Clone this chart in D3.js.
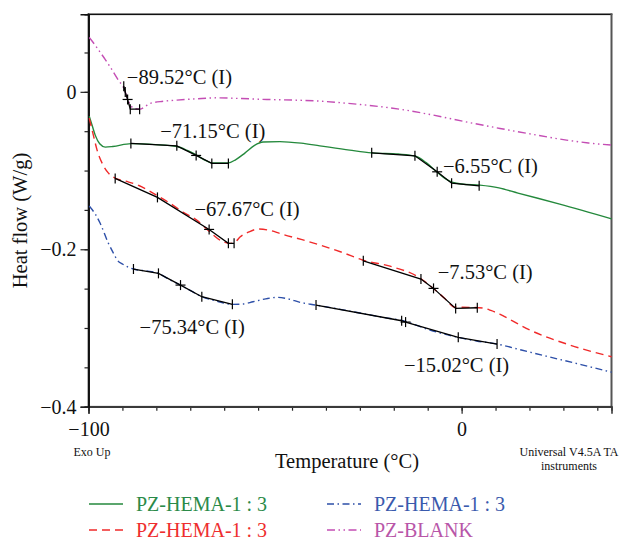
<!DOCTYPE html>
<html>
<head>
<meta charset="utf-8">
<script src="https://cdn.jsdelivr.net/npm/d3@7"></script>
<style>
  html, body { margin: 0; padding: 0; background: #fff; }
  svg { display: block; font-family: "Liberation Serif", "DejaVu Serif", serif; }
</style>
</head>
<body>
<svg id="chart" width="624" height="542"></svg>
<script>
// ---------------- DATA ----------------
const xMajorTicks = [-100, 0];
const xMinorStep = 100 / 11;
const yMajorTicks = [0, -0.2, -0.4];
const yMinorStep = 0.05;

// Curves: [temperature °C, heat flow W/g]
const greenCurve = [[-99.8,-0.031],[-99.0,-0.043],[-98.2,-0.055],[-97.0,-0.066],[-95.5,-0.0702],[-93.5,-0.0695],[-88.6,-0.0658],[-82,-0.067],[-76.3,-0.0695],[-73.5,-0.0745],[-71.0,-0.0805],[-68.5,-0.0875],[-66.9,-0.0905],[-62.6,-0.0905],[-60.5,-0.086],[-58.1,-0.0778],[-55.5,-0.068],[-53.2,-0.0638],[-48.7,-0.0632],[-43,-0.0652],[-38.0,-0.0686],[-30.0,-0.074],[-24.1,-0.0775],[-17,-0.079],[-12.5,-0.0815],[-9.5,-0.09],[-6.7,-0.1016],[-4.5,-0.110],[-2.6,-0.1147],[0,-0.117],[4.9,-0.1185],[10,-0.122],[15.1,-0.1286],[26.3,-0.1426],[40.2,-0.1613]];
const redCurve = [[-99.8,-0.0335],[-98.7,-0.055],[-97.7,-0.074],[-96.1,-0.093],[-94.7,-0.103],[-92.9,-0.1095],[-90,-0.1135],[-86.5,-0.119],[-81.5,-0.132],[-78,-0.142],[-74.6,-0.153],[-71,-0.163],[-67.7,-0.177],[-64.5,-0.189],[-62.1,-0.1925],[-60.5,-0.19],[-59.4,-0.1845],[-57,-0.178],[-54.5,-0.1743],[-51,-0.1765],[-48.7,-0.180],[-43,-0.1875],[-37.9,-0.1947],[-32,-0.204],[-26.4,-0.2139],[-19.2,-0.2215],[-11.2,-0.2365],[-7.7,-0.2493],[-4.5,-0.2625],[-1.8,-0.2735],[2.2,-0.2738],[5.7,-0.2747],[8,-0.278],[10.2,-0.2823],[14,-0.292],[18.3,-0.3026],[29.0,-0.3216],[40.2,-0.3366]];
const blueCurve = [[-99.8,-0.1451],[-98.2,-0.1553],[-96.9,-0.1667],[-94.7,-0.192],[-93.3,-0.205],[-92.3,-0.2137],[-90.8,-0.219],[-89.6,-0.2222],[-88.0,-0.2251],[-84.5,-0.2275],[-81.3,-0.2306],[-78.5,-0.238],[-75.4,-0.2455],[-72.5,-0.253],[-69.6,-0.2603],[-65.5,-0.266],[-61.5,-0.270],[-58.5,-0.2695],[-55.9,-0.2667],[-52.5,-0.263],[-49.5,-0.2611],[-46.5,-0.263],[-43.3,-0.2674],[-39.0,-0.2709],[-33,-0.276],[-27.2,-0.281],[-21,-0.2865],[-15.7,-0.2908],[-8.5,-0.3026],[-1.0,-0.3119],[4,-0.3165],[9.5,-0.3204],[16,-0.328],[23.6,-0.3369],[32,-0.3465],[40.2,-0.3562]];
const magentaCurve = [[-99.8,0.0691],[-98.4,0.0605],[-96.9,0.0504],[-95.5,0.041],[-94.2,0.0317],[-92.0,0.0149],[-90.5,0.0043],[-89.6,-0.008],[-88.6,-0.018],[-87.4,-0.0215],[-86.2,-0.022],[-84.8,-0.0185],[-83.5,-0.0147],[-80,-0.012],[-76.3,-0.0105],[-71,-0.0088],[-65.6,-0.0076],[-59,-0.0085],[-52.2,-0.0097],[-45,-0.0105],[-37.9,-0.0118],[-32,-0.014],[-25.4,-0.0169],[-16,-0.0225],[-7.6,-0.0296],[1,-0.038],[10.3,-0.0465],[19,-0.054],[28.1,-0.0613],[34,-0.065],[40.2,-0.0677]];

// Glass transition analyses: 5 points (onset tick, tick, inflection, tick, end tick)
const tgValues = [-89.52, -71.15, -6.55, -67.67, -7.53, -75.34, -15.02];
const tgPoints = [
  [[-90.55,0.0072],[-90.15,-0.0003],[-89.52,-0.0097],[-88.8,-0.022],[-86.3,-0.022]],
  [[-88.64,-0.0655],[-76.33,-0.0686],[-71.15,-0.0808],[-66.95,-0.0909],[-62.51,-0.0909]],
  [[-24.1,-0.0775],[-12.51,-0.0813],[-6.55,-0.1016],[-2.68,-0.116],[4.7,-0.1194]],
  [[-92.85,-0.110],[-81.52,-0.1341],[-67.67,-0.1748],[-62.51,-0.1925],[-60.98,-0.1925]],
  [[-26.35,-0.2146],[-10.9,-0.2379],[-7.53,-0.2497],[-1.6,-0.2751],[4.2,-0.2743]],
  [[-87.95,-0.2251],[-81.25,-0.2306],[-75.34,-0.2455],[-69.63,-0.2603],[-61.44,-0.2700]],
  [[-39.02,-0.2709],[-16.07,-0.2908],[-15.02,-0.2925],[-0.9,-0.3119],[9.5,-0.3204]]
];
// label anchor (left edge, vertical centre) in data units
const tgLabelAt = [[-89.72,0.019],[-80.8,-0.0499],[-5.0,-0.094],[-71.6,-0.148],[-6.4,-0.2286],[-86.3,-0.2984],[-15.45,-0.347]];

const seriesNames = ["PZ-HEMA-1 : 3", "PZ-HEMA-1 : 3", "PZ-HEMA-1 : 3", "PZ-BLANK"];

// ---------------- DRAW ----------------
const svg = d3.select("#chart");
const pLeft = 88.5, pRight = 611.5, pTop = 14.3, pBottom = 406.7;
const x = d3.scaleLinear().domain([-100, 40.17]).range([pLeft, pRight]);
const y = d3.scaleLinear().domain([-0.4, 0.0985]).range([pBottom, pTop]);

const series = [
  {data: greenCurve, color: "#24893c", dash: null, text: "#2a8a48", name: seriesNames[0]},
  {data: redCurve, color: "#f02a2a", dash: "8,5", text: "#ee2e2e", name: seriesNames[1]},
  {data: blueCurve, color: "#2d4fa8", dash: "7,3.5,1.5,3.5", text: "#3a5aad", name: seriesNames[2]},
  {data: magentaCurve, color: "#c44db4", dash: "8,3.5,1.5,3.5,1.5,3.5", text: "#b856a8", name: seriesNames[3]}
];

// frame as filled bars (drawn first, under the curves)
const fw = 1.6;
const frame = svg.append("g");
frame.append("rect").attr("x", pLeft - fw / 2).attr("y", pTop - fw / 2).attr("width", pRight - pLeft + fw).attr("height", fw).attr("fill", "#111");
frame.append("rect").attr("x", pLeft - fw / 2).attr("y", pTop - fw / 2).attr("width", fw).attr("height", pBottom - pTop + fw).attr("fill", "#111");
frame.append("rect").attr("x", pRight - 1).attr("y", pTop - fw / 2).attr("width", 2).attr("height", pBottom - pTop + fw).attr("fill", "#555");
frame.append("rect").attr("x", pLeft - fw / 2).attr("y", pBottom - fw / 2).attr("width", pRight - pLeft + fw).attr("height", fw).attr("fill", "#3a3a3a");

// axes
const xMinor = d3.range(-100, 40.2, xMinorStep);
const yMinor = d3.range(-0.4, 0.099, yMinorStep);

const gx = svg.append("g").attr("transform", `translate(0,${pBottom})`);
gx.call(d3.axisBottom(x).tickValues(xMinor).tickSize(4).tickFormat(""));
gx.append("g").call(d3.axisBottom(x).tickValues(xMajorTicks).tickSize(7).tickPadding(8).tickFormat(d => d < 0 ? "\u2212" + Math.abs(d) : d));
const gy = svg.append("g").attr("transform", `translate(${pLeft},0)`);
gy.call(d3.axisLeft(y).tickValues(yMinor).tickSize(4).tickFormat(""));
gy.append("g").call(d3.axisLeft(y).tickValues(yMajorTicks).tickSize(8).tickPadding(4).tickFormat(d => d === 0 ? "0" : "\u22120." + String(Math.round(Math.abs(d)*10))));
gx.selectAll(".domain").attr("stroke", "#3a3a3a").attr("stroke-width", 1.6);
gy.selectAll(".domain").attr("stroke", "#111").attr("stroke-width", 1.6);
svg.selectAll(".tick line").attr("stroke", "#222").attr("stroke-width", 1.2);
svg.selectAll(".tick text").attr("font-family", "Liberation Serif").attr("font-size", 20).attr("fill", "#111");

// curves
const lineGen = d3.line().x(d => x(d[0])).y(d => y(d[1])).curve(d3.curveMonotoneX);
const plot = svg.append("g");
series.forEach(s => {
  plot.append("path").datum(s.data).attr("d", lineGen).attr("fill", "none")
    .attr("stroke", s.color).attr("stroke-width", 1.4)
    .attr("stroke-dasharray", s.dash);
});

// analysis segments
const segLine = d3.line().x(d => x(d[0])).y(d => y(d[1]));
tgPoints.forEach((pts, i) => {
  const g = plot.append("g");
  g.append("path").datum(pts).attr("d", segLine).attr("fill", "none").attr("stroke", "#000").attr("stroke-width", 1.3);
  pts.forEach((p, j) => {
    const px = x(p[0]), py = y(p[1]);
    g.append("path").attr("d", `M${px},${py - 5}V${py + 5}`).attr("stroke", "#000").attr("stroke-width", 1.2);
    if (j === 2) g.append("path").attr("d", `M${px - 5},${py}H${px + 5}`).attr("stroke", "#000").attr("stroke-width", 1.2);
  });
  const v = tgValues[i];
  svg.append("text").attr("x", x(tgLabelAt[i][0])).attr("y", y(tgLabelAt[i][1])).attr("dy", "0.35em")
    .attr("font-size", 20.5).attr("fill", "#111")
    .text("\u2212" + Math.abs(v).toFixed(2) + "\u00B0C (I)");
});

// axis titles
svg.append("text").attr("transform", `translate(27,${(pTop + pBottom) / 2 + 10}) rotate(-90)`).attr("text-anchor", "middle")
  .attr("font-size", 20.5).attr("fill", "#111").text("Heat flow (W/g)");
svg.append("text").attr("x", 347).attr("y", 468).attr("text-anchor", "middle")
  .attr("font-size", 20.5).attr("fill", "#111").text("Temperature (\u00B0C)");
svg.append("text").attr("x", 92).attr("y", 456).attr("text-anchor", "middle")
  .attr("font-size", 12).attr("fill", "#111").text("Exo Up");
svg.append("text").attr("x", 569).attr("y", 456).attr("text-anchor", "middle")
  .attr("font-size", 12).attr("fill", "#111").text("Universal V4.5A TA");
svg.append("text").attr("x", 569).attr("y", 470).attr("text-anchor", "middle")
  .attr("font-size", 12).attr("fill", "#111").text("instruments");

// legend
const legendPos = [[89, 504], [89, 530], [327, 504], [327, 530]];
series.forEach((s, i) => {
  const [lx, ly] = legendPos[i];
  svg.append("path").attr("d", `M${lx},${ly}H${lx + 34}`)
    .attr("stroke", s.color).attr("stroke-width", 1.4).attr("stroke-dasharray", s.dash);
  svg.append("text").attr("x", lx + 47).attr("y", ly).attr("dy", "0.35em")
    .attr("font-size", 20).attr("fill", s.text).text(s.name);
});
</script>
</body>
</html>
